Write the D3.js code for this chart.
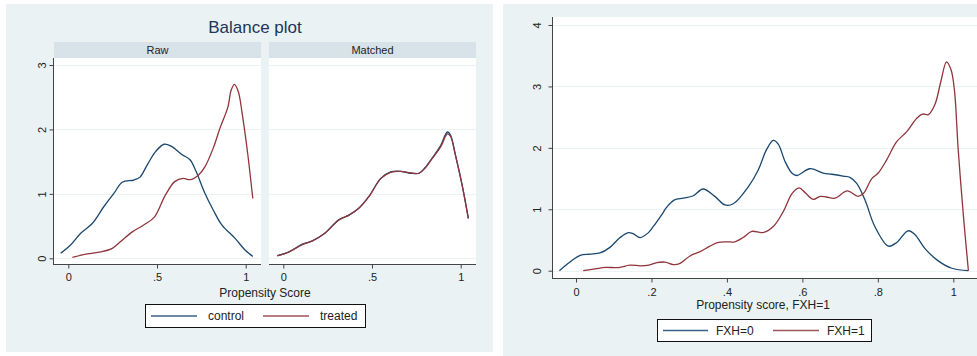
<!DOCTYPE html>
<html>
<head>
<meta charset="utf-8">
<script src="https://cdn.jsdelivr.net/npm/d3@7"></script>
<style>
  body { margin: 0; background: #ffffff; }
  svg { display: block; font-family: "Liberation Sans", Arial, sans-serif; }
</style>
</head>
<body>
<svg id="chart" width="977" height="356"></svg>
<script>
// Kernel density of the propensity score, [score, density]
const rawControl = [[-0.043,0.078],[0.014,0.21],[0.07,0.39],[0.135,0.54],[0.20,0.80],[0.258,1.01],[0.304,1.18],[0.37,1.215],[0.404,1.26],[0.445,1.45],[0.493,1.66],[0.54,1.77],[0.58,1.74],[0.64,1.61],[0.686,1.53],[0.72,1.35],[0.77,1.01],[0.817,0.75],[0.865,0.52],[0.94,0.31],[0.996,0.13],[1.04,0.03]];
const rawTreated = [[0.023,0.016],[0.107,0.067],[0.183,0.10],[0.248,0.155],[0.295,0.26],[0.361,0.41],[0.427,0.52],[0.485,0.64],[0.545,0.97],[0.60,1.19],[0.648,1.24],[0.686,1.22],[0.733,1.29],[0.77,1.42],[0.817,1.71],[0.855,2.02],[0.90,2.35],[0.917,2.60],[0.936,2.70],[0.958,2.59],[0.98,2.25],[1.011,1.63],[1.04,0.93]];
const matchedControl = [[-0.034,0.04],[0.032,0.10],[0.107,0.22],[0.164,0.27],[0.23,0.38],[0.314,0.60],[0.37,0.67],[0.427,0.78],[0.483,0.96],[0.55,1.24],[0.605,1.34],[0.66,1.35],[0.718,1.32],[0.765,1.32],[0.80,1.41],[0.84,1.56],[0.887,1.75],[0.925,1.96],[0.943,1.91],[0.97,1.61],[1.01,1.11],[1.043,0.62]];
const matchedTreated = [[-0.034,0.036],[0.032,0.10],[0.107,0.21],[0.164,0.27],[0.23,0.38],[0.314,0.595],[0.37,0.67],[0.427,0.78],[0.483,0.96],[0.55,1.24],[0.605,1.335],[0.66,1.35],[0.718,1.325],[0.765,1.32],[0.80,1.40],[0.84,1.55],[0.887,1.73],[0.925,1.93],[0.943,1.89],[0.97,1.60],[1.01,1.11],[1.043,0.62]];
const fxh0 = [[-0.044,0],[-0.016,0.14],[0.011,0.25],[0.037,0.27],[0.064,0.29],[0.09,0.38],[0.117,0.54],[0.139,0.62],[0.152,0.60],[0.17,0.54],[0.192,0.62],[0.205,0.72],[0.227,0.91],[0.24,1.03],[0.26,1.15],[0.285,1.18],[0.311,1.22],[0.337,1.33],[0.368,1.21],[0.395,1.07],[0.417,1.09],[0.457,1.37],[0.483,1.64],[0.505,1.97],[0.523,2.12],[0.536,2.06],[0.554,1.78],[0.572,1.59],[0.585,1.55],[0.62,1.66],[0.655,1.59],[0.678,1.57],[0.708,1.54],[0.726,1.52],[0.744,1.42],[0.766,1.15],[0.792,0.72],[0.828,0.40],[0.85,0.46],[0.88,0.65],[0.898,0.59],[0.925,0.36],[0.96,0.16],[0.996,0.04],[1.04,0.0]];
const fxh1 = [[0.019,0],[0.051,0.03],[0.078,0.055],[0.113,0.05],[0.143,0.09],[0.17,0.08],[0.193,0.09],[0.214,0.13],[0.236,0.14],[0.258,0.10],[0.276,0.12],[0.302,0.24],[0.329,0.31],[0.355,0.40],[0.377,0.46],[0.40,0.47],[0.421,0.47],[0.443,0.54],[0.466,0.64],[0.495,0.62],[0.523,0.72],[0.55,0.97],[0.572,1.25],[0.591,1.35],[0.609,1.26],[0.629,1.16],[0.647,1.21],[0.664,1.20],[0.686,1.18],[0.719,1.30],[0.747,1.21],[0.762,1.26],[0.784,1.50],[0.801,1.59],[0.823,1.80],[0.85,2.10],[0.876,2.26],[0.903,2.48],[0.918,2.55],[0.934,2.54],[0.951,2.70],[0.967,3.08],[0.982,3.40],[0.994,3.27],[1.003,2.94],[1.013,1.97],[1.027,0.88],[1.04,0.0]];

// Axis ticks and labels
const balanceXTicks = [0, 0.5, 1];
const balanceYTicks = [0, 1, 2, 3];
const fxhXTicks = [0, 0.2, 0.4, 0.6, 0.8, 1];
const fxhYTicks = [0, 1, 2, 3, 4];
const panelNames = ["Raw", "Matched"];
const balanceLegend = ["control", "treated"];
const fxhLegend = ["FXH=0", "FXH=1"];

const navy = "#1a476f", maroon = "#90353b";
const bg = "#eaf2f3", strip = "#d8e3e9", grid = "#eaf2f3";
const axisColor = "#444", textColor = "#222";
const fmt = d => d3.format("~g")(d).replace(/^0\./, ".");

const svg = d3.select("#chart");

function xAxis(x, ticks, yPos, x0, x1, pad) {
  svg.append("line").attr("x1", x0).attr("x2", x1).attr("y1", yPos).attr("y2", yPos)
    .attr("stroke", axisColor).attr("stroke-width", 1);
  const g = svg.append("g").attr("transform", `translate(0,${yPos})`)
    .call(d3.axisBottom(x).tickValues(ticks).tickSize(4).tickPadding(pad).tickFormat(fmt));
  g.select(".domain").remove();
  g.attr("font-family", null).attr("font-size", 11);
  g.selectAll(".tick line").attr("stroke", axisColor);
  g.selectAll(".tick text").attr("fill", textColor);
}

function yAxis(y, ticks, xPos, y0, y1, off) {
  svg.append("line").attr("x1", xPos).attr("x2", xPos).attr("y1", y0).attr("y2", y1)
    .attr("stroke", axisColor).attr("stroke-width", 1);
  const g = svg.append("g").attr("transform", `translate(${xPos},0)`)
    .call(d3.axisLeft(y).tickValues(ticks).tickSize(4).tickFormat(fmt));
  g.select(".domain").remove();
  g.attr("font-family", null).attr("font-size", 11);
  g.selectAll(".tick line").attr("stroke", axisColor);
  g.selectAll(".tick text").attr("fill", textColor)
    .attr("x", null).attr("dy", null).attr("text-anchor", "middle")
    .attr("transform", `translate(${off},0) rotate(-90)`);
}

function gridLines(y, ticks, x0, x1) {
  svg.append("g").selectAll("line").data(ticks).join("line")
    .attr("x1", x0).attr("x2", x1)
    .attr("y1", d => Math.round(y(d)) + 0.5).attr("y2", d => Math.round(y(d)) + 0.5)
    .attr("stroke", grid).attr("stroke-width", 1.2);
}

function curve(x, y, data, color) {
  const line = d3.line().x(d => x(d[0])).y(d => y(d[1])).curve(d3.curveCatmullRom.alpha(0.5));
  svg.append("path").datum(data).attr("d", line)
    .attr("fill", "none").attr("stroke", color).attr("stroke-width", 1.3)
    .attr("stroke-linejoin", "round");
}

function legend(x0, y0, w, h, items, entries) {
  const g = svg.append("g");
  g.append("rect").attr("x", x0 + 0.5).attr("y", y0 + 0.5).attr("width", w).attr("height", h)
    .attr("fill", "#fff").attr("stroke", "#111").attr("stroke-width", 1);
  const cy = y0 + h / 2 + 0.5;
  items.forEach((it, i) => {
    const e = entries[i];
    g.append("line").attr("x1", e.lx0).attr("x2", e.lx1).attr("y1", cy).attr("y2", cy)
      .attr("stroke", it.color).attr("stroke-width", 1.6).attr("opacity", 0.85);
    g.append("text").attr("x", e.tx).attr("y", cy).attr("dy", "0.35em")
      .attr("font-size", 12).attr("fill", textColor).text(it.label);
  });
}

// ---------- Left graph: balance plot ----------
svg.append("rect").attr("x", 6).attr("y", 4).attr("width", 487).attr("height", 348).attr("fill", bg);
svg.append("text").attr("x", 255).attr("y", 33).attr("text-anchor", "middle")
  .attr("font-size", 17).attr("fill", "#22345a").text("Balance plot");

const by = d3.scaleLinear().domain([0, 3]).range([258.3, 65]);
const panels = [
  { name: panelNames[0], left: 54, right: 261, x: d3.scaleLinear().domain([0, 1]).range([68.3, 245.7]), c: rawControl, t: rawTreated },
  { name: panelNames[1], left: 269, right: 476, x: d3.scaleLinear().domain([0, 1]).range([283.3, 460.7]), c: matchedControl, t: matchedTreated }
];

panels.forEach((p, i) => {
  svg.append("rect").attr("x", p.left).attr("y", 42).attr("width", p.right - p.left).attr("height", 16).attr("fill", strip);
  svg.append("text").attr("x", (p.left + p.right) / 2).attr("y", 50).attr("dy", "0.35em")
    .attr("text-anchor", "middle").attr("font-size", 11).attr("fill", textColor).text(p.name);
  svg.append("rect").attr("x", p.left).attr("y", 58).attr("width", p.right - p.left).attr("height", 206).attr("fill", "#fff");
  gridLines(by, balanceYTicks, p.left, p.right);
  curve(p.x, by, p.c, navy);
  curve(p.x, by, p.t, maroon);
  xAxis(p.x, balanceXTicks, 264.5, i === 0 ? 53 : p.left, p.right, 5);
});
yAxis(by, balanceYTicks, 53.5, 58, 264.5, -8);

svg.append("text").attr("x", 265).attr("y", 297).attr("text-anchor", "middle")
  .attr("font-size", 12).attr("fill", textColor).text("Propensity Score");

legend(145, 304, 220, 23,
  [{ label: balanceLegend[0], color: navy }, { label: balanceLegend[1], color: maroon }],
  [{ lx0: 151, lx1: 197, tx: 208 }, { lx0: 263, lx1: 309, tx: 320 }]);

// ---------- Right graph: densities by FXH ----------
svg.append("rect").attr("x", 503).attr("y", 4).attr("width", 474).attr("height", 352).attr("fill", bg);
svg.append("rect").attr("x", 552).attr("y", 17).attr("width", 425).attr("height", 261).attr("fill", "#fff");

const fx = d3.scaleLinear().domain([0, 1]).range([576, 953.3]);
const fy = d3.scaleLinear().domain([0, 4]).range([270.7, 25]);
gridLines(fy, fxhYTicks, 552, 977);
curve(fx, fy, fxh0, navy);
curve(fx, fy, fxh1, maroon);
xAxis(fx, fxhXTicks, 278.5, 552, 977, 6);
yAxis(fy, fxhYTicks, 552.5, 17, 278.5, -11.5);

svg.append("text").attr("x", 763).attr("y", 309).attr("text-anchor", "middle")
  .attr("font-size", 12).attr("fill", textColor).text("Propensity score, FXH=1");

legend(657, 319, 214, 22,
  [{ label: fxhLegend[0], color: navy }, { label: fxhLegend[1], color: maroon }],
  [{ lx0: 663, lx1: 708, tx: 716 }, { lx0: 773, lx1: 819, tx: 827 }]);
</script>
</body>
</html>
